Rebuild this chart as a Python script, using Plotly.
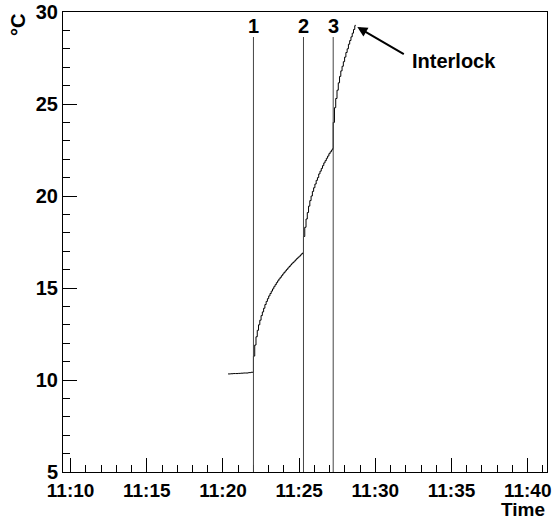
import plotly.graph_objects as go

DAY = "2024-01-01 "

# Temperature log (step histogram), time of day and degrees C
times = [
    # idle
    "11:20:20", "11:20:30", "11:20:40", "11:20:50", "11:21:00", "11:21:10",
    "11:21:20", "11:21:30", "11:21:40", "11:21:50",
    # step 1
    "11:22:00", "11:22:05", "11:22:10", "11:22:15", "11:22:20", "11:22:25",
    "11:22:30", "11:22:35", "11:22:40", "11:22:45", "11:22:50", "11:22:55",
    "11:23:00", "11:23:05", "11:23:10", "11:23:15", "11:23:20", "11:23:25",
    "11:23:30", "11:23:35", "11:23:40", "11:23:45", "11:23:50", "11:23:55",
    "11:24:00", "11:24:05", "11:24:10", "11:24:15", "11:24:20", "11:24:25",
    "11:24:30", "11:24:35", "11:24:40", "11:24:45", "11:24:50", "11:24:55",
    "11:25:00", "11:25:05", "11:25:10", "11:25:15",
    # step 2
    "11:25:17", "11:25:22", "11:25:27", "11:25:32", "11:25:37", "11:25:42",
    "11:25:47", "11:25:52", "11:25:57", "11:26:02", "11:26:07", "11:26:12",
    "11:26:17", "11:26:22", "11:26:27", "11:26:32", "11:26:37", "11:26:42",
    "11:26:47", "11:26:52", "11:26:57", "11:27:02", "11:27:07", "11:27:12",
    # step 3
    "11:27:14", "11:27:19", "11:27:24", "11:27:29", "11:27:34", "11:27:39",
    "11:27:44", "11:27:49", "11:27:54", "11:27:59", "11:28:04", "11:28:09",
    "11:28:14", "11:28:19", "11:28:24", "11:28:29", "11:28:34", "11:28:39",
    "11:28:41",
]
temps = [
    10.33, 10.34, 10.35, 10.35, 10.36, 10.37,
    10.38, 10.38, 10.40, 10.42,
    11.3, 11.9, 12.35, 12.7, 13.0, 13.25,
    13.5, 13.7, 13.9, 14.1, 14.27, 14.42,
    14.57, 14.7, 14.83, 14.95, 15.07, 15.18,
    15.29, 15.39, 15.49, 15.58, 15.67, 15.76,
    15.85, 15.93, 16.01, 16.09, 16.17, 16.25,
    16.32, 16.39, 16.46, 16.53, 16.6, 16.67,
    16.73, 16.8, 16.87, 16.93,
    17.8, 18.3, 18.75, 19.1, 19.45, 19.75,
    20.0, 20.25, 20.45, 20.65, 20.85, 21.0,
    21.2, 21.35, 21.5, 21.65, 21.8, 21.92,
    22.05, 22.17, 22.3, 22.4, 22.5, 22.58,
    24.0, 24.8, 25.3, 25.75, 26.15, 26.5,
    26.8, 27.05, 27.3, 27.55, 27.8, 28.0,
    28.25, 28.45, 28.65, 28.85, 29.05, 29.25,
    29.3,
]

# Event markers
event_labels = ["1", "2", "3"]
event_times = ["11:22:00", "11:25:17", "11:27:14"]
event_top = 28.64
event_label_y = 29.24

# Interlock annotation
interlock_text = "Interlock"
interlock_point = ("11:28:49", 29.18)
interlock_text_pos = ("11:32:17", 27.34)

x_range = ["11:09:30", "11:41:16"]
y_range = [5, 30]

FONT = "Liberation Sans"
fsize = 20
xsize = 19

fig = go.Figure()
fig.add_trace(go.Scatter(
    x=[DAY + t for t in times], y=temps, mode="lines",
    line=dict(color="black", width=1, shape="hv"),
    showlegend=False, hoverinfo="skip",
))

for lab, t in zip(event_labels, event_times):
    fig.add_shape(type="line", x0=DAY + t, x1=DAY + t, y0=y_range[0], y1=event_top,
                  xref="x", yref="y", line=dict(color="#444444", width=1))
    fig.add_annotation(x=DAY + t, y=event_label_y, text=lab, showarrow=False,
                       xanchor="center", yanchor="middle",
                       font=dict(family=FONT, size=fsize, color="black", weight="bold"))

# arrow pointing at the end of the curve
fig.add_annotation(x=DAY + interlock_point[0], y=interlock_point[1], text="",
                   showarrow=True, ax=48, ay=28, arrowhead=2, arrowsize=1,
                   arrowwidth=2, arrowcolor="black", standoff=0)
fig.add_annotation(x=DAY + interlock_text_pos[0], y=interlock_text_pos[1],
                   text=interlock_text, showarrow=False, xanchor="left", yanchor="middle",
                   font=dict(family=FONT, size=fsize, color="black", weight="bold"))

# axis titles
fig.add_annotation(xref="paper", yref="paper", x=1, y=-0.0826, text="Time",
                   showarrow=False, xanchor="right", yanchor="middle",
                   font=dict(family=FONT, size=xsize, color="black", weight="bold"))
fig.add_annotation(xref="paper", yref="paper", x=-0.093, y=1.0, text="°C",
                   textangle=-90, showarrow=False, xanchor="center", yanchor="top",
                   font=dict(family=FONT, size=fsize, color="black", weight="bold"))

fig.update_xaxes(
    type="date", range=[DAY + x_range[0], DAY + x_range[1]],
    tick0=DAY + "11:10:00", dtick=300000, tickformat="%H:%M",
    ticks="inside", ticklen=14, tickwidth=1, tickcolor="black",
    minor=dict(dtick=60000, ticks="inside", ticklen=7, tickcolor="black", tickwidth=1),
    showline=True, linecolor="black", linewidth=1, mirror=True,
    showgrid=False, zeroline=False, automargin=False, ticklabelstandoff=1,
    tickfont=dict(family=FONT, size=xsize, color="black", weight="bold"),
)
fig.update_yaxes(
    range=y_range, tick0=5, dtick=5,
    ticks="inside", ticklen=14, tickwidth=1, tickcolor="black",
    minor=dict(dtick=1, ticks="inside", ticklen=7, tickcolor="black", tickwidth=1),
    showline=True, linecolor="black", linewidth=1, mirror=True,
    showgrid=False, zeroline=False, automargin=False,
    tickfont=dict(family=FONT, size=fsize, color="black", weight="bold"),
)

fig.update_layout(
    width=558, height=521,
    margin=dict(l=63, r=11, t=12, b=49),
    paper_bgcolor="white", plot_bgcolor="white",
)

fig.write_html("out.html")
